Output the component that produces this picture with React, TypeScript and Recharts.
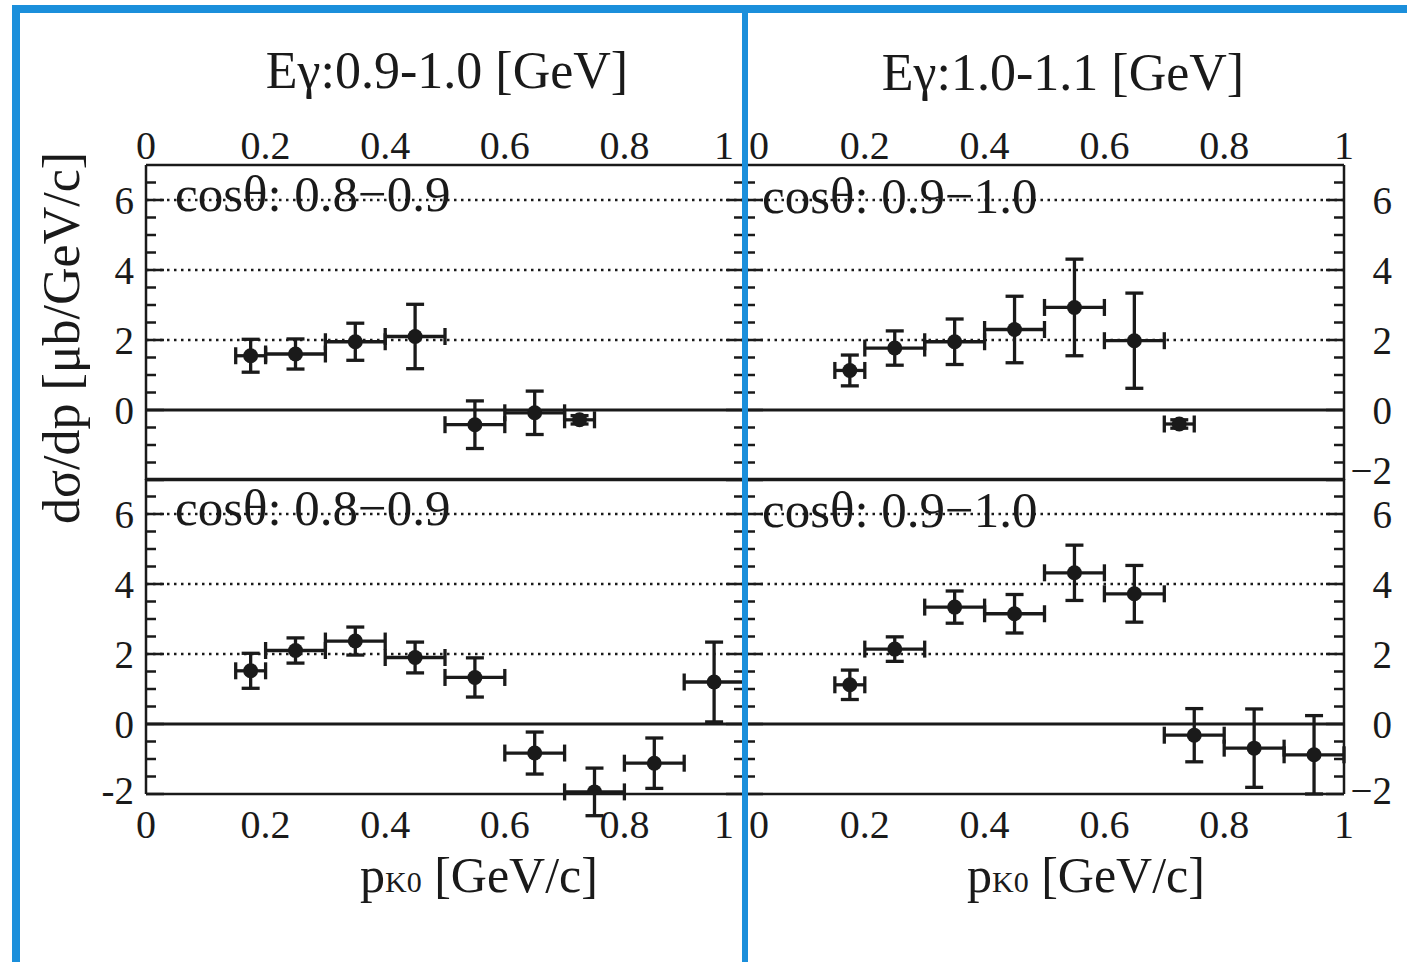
import { ScatterChart, Scatter, XAxis, YAxis, ErrorBar, ReferenceLine } from 'recharts';

const SERIF = "'Liberation Serif', 'Times New Roman', serif";
const INK = '#1a1a1a';
const BLUE = '#1b8fdb';

// Eγ 0.9–1.0 GeV, cosθ 0.8–0.9 (upper left)
const ulP = [0.175, 0.25, 0.35, 0.45, 0.55, 0.65, 0.725];
const ulV = [1.55, 1.6, 1.95, 2.1, -0.42, -0.08, -0.28];
const ulEv = [0.47, 0.43, 0.53, 0.92, 0.68, 0.62, 0.12];
const ulEp = [0.025, 0.05, 0.05, 0.05, 0.05, 0.05, 0.025];

// Eγ 1.0–1.1 GeV, cosθ 0.9–1.0 (upper right)
const urP = [0.175, 0.25, 0.35, 0.45, 0.55, 0.65, 0.725];
const urV = [1.13, 1.77, 1.95, 2.3, 2.93, 1.98, -0.4];
const urEv = [0.44, 0.49, 0.65, 0.95, 1.38, 1.36, 0.12];
const urEp = [0.025, 0.05, 0.05, 0.05, 0.05, 0.05, 0.025];

// lower left
const llP = [0.175, 0.25, 0.35, 0.45, 0.55, 0.65, 0.75, 0.85, 0.95];
const llV = [1.52, 2.1, 2.37, 1.9, 1.33, -0.83, -1.94, -1.12, 1.2];
const llEv = [0.5, 0.36, 0.4, 0.44, 0.56, 0.6, 0.68, 0.72, 1.14];
const llEp = [0.025, 0.05, 0.05, 0.05, 0.05, 0.05, 0.05, 0.05, 0.05];

// lower right
const lrP = [0.175, 0.25, 0.35, 0.45, 0.55, 0.65, 0.75, 0.85, 0.95];
const lrV = [1.12, 2.14, 3.34, 3.15, 4.32, 3.72, -0.32, -0.69, -0.88];
const lrEv = [0.42, 0.35, 0.46, 0.55, 0.79, 0.81, 0.76, 1.12, 1.12];
const lrEp = [0.025, 0.05, 0.05, 0.05, 0.05, 0.05, 0.05, 0.05, 0.05];

const xMajor = [0, 0.2, 0.4, 0.6, 0.8, 1];
const xMinor = [0.05, 0.1, 0.15, 0.25, 0.3, 0.35, 0.45, 0.5, 0.55, 0.65, 0.7, 0.75, 0.85, 0.9, 0.95];
const yMajor = [-2, 0, 2, 4, 6];
const yMinor = [-1.5, -1, -0.5, 0.5, 1, 1.5, 2.5, 3, 3.5, 4.5, 5, 5.5, 6.5];
const yLabelsUL = [0, 2, 4, 6];
const yLabelsOther = [-2, 0, 2, 4, 6];
const gridY = [2, 4, 6];

const titles = ['Eγ:0.9-1.0 [GeV]', 'Eγ:1.0-1.1 [GeV]'];
const cosLeft = 'cosθ: 0.8−0.9';
const cosRight = 'cosθ: 0.9−1.0';

const rows = (p: number[], v: number[], ev: number[], ep: number[]) =>
  p.map((x, i) => ({ p: x, v: v[i], ev: ev[i], ep: ep[i] }));

// plot-area boxes (page pixels)
const COLS = { L: { x: 146, w: 598 }, R: { x: 745, w: 599 } };
const ROWS = { T: { y: 165, h: 315 }, B: { y: 479, h: 315 } };
const PAD_X = 100;
const PAD_Y = 70;
const LAB_W = 80;
const LAB_H = 60;

const frame = { stroke: INK, strokeWidth: 2.5 };

const NoLabel = () => <g />;

function XLabel(props: any) {
  const { x, y, payload, col } = props;
  const v = payload.value;
  const dx = col === 'L' && v === 1 ? -20 : col === 'R' && v === 0 ? 14 : 0;
  return (
    <text x={x + dx} y={y} textAnchor="middle" fontSize={40} fontFamily={SERIF} fill={INK}>
      {String(v)}
    </text>
  );
}

function YLabel(props: any) {
  const { x, y, payload, col, row } = props;
  const v = payload.value;
  const txt = v < 0 ? (col === 'L' ? '-' : '\u2212') + Math.abs(v) : String(v);
  const dy = v === -2 ? (row === 'T' ? -10 : -4) : 0;
  return (
    <text x={x} y={y + dy} dy="0.35em" textAnchor="end" fontSize={39} fontFamily={SERIF} fill={INK}>
      {txt}
    </text>
  );
}

const Dot = (props: any) => <circle cx={props.cx} cy={props.cy} r={7.5} fill={INK} />;

function Panel({ col, row, data, yLabels }: { col: 'L' | 'R'; row: 'T' | 'B'; data: any[]; yLabels: number[] }) {
  const px = COLS[col];
  const py = ROWS[row];
  const labLeft = col === 'L';
  const labTop = row === 'T';
  const margin = {
    left: PAD_X - (labLeft ? LAB_W : 0),
    right: PAD_X - (labLeft ? 0 : LAB_W),
    top: PAD_Y - (labTop ? LAB_H : 0),
    bottom: PAD_Y - (labTop ? 0 : LAB_H),
  };
  const xCommon = { type: 'number' as const, domain: [0, 1], allowDataOverflow: true, interval: 0 as const };
  const yCommon = { type: 'number' as const, domain: [-2, 7], allowDataOverflow: true, interval: 0 as const };
  return (
    <div style={{ position: 'absolute', left: px.x - PAD_X, top: py.y - PAD_Y }}>
      <ScatterChart width={px.w + 2 * PAD_X} height={py.h + 2 * PAD_Y} margin={margin}>
        {/* data axes, carrying the tick labels */}
        <XAxis
          xAxisId="x"
          dataKey="p"
          orientation={labTop ? 'top' : 'bottom'}
          height={LAB_H}
          {...xCommon}
          ticks={xMajor}
          tickSize={0}
          tickMargin={labTop ? 6 : 44}
          tickLine={false}
          axisLine={false}
          tick={<XLabel col={col} />}
        />
        <YAxis
          yAxisId="y"
          dataKey="v"
          orientation={labLeft ? 'left' : 'right'}
          width={LAB_W}
          {...yCommon}
          ticks={yLabels}
          tickSize={0}
          tickMargin={labLeft ? 12 : 48}
          tickLine={false}
          axisLine={false}
          tick={<YLabel col={col} row={row} />}
        />

        {/* frame + inward major/minor ticks */}
        <XAxis xAxisId="bM" orientation="bottom" mirror height={1} {...xCommon} ticks={xMajor} tick={NoLabel} tickSize={11} tickLine={frame} axisLine={frame} />
        <XAxis xAxisId="bm" orientation="bottom" mirror height={1} {...xCommon} ticks={xMinor} tick={NoLabel} tickSize={5.5} tickLine={frame} axisLine={false} />
        <XAxis xAxisId="tM" orientation="top" mirror height={1} {...xCommon} ticks={xMajor} tick={NoLabel} tickSize={11} tickLine={frame} axisLine={frame} />
        <XAxis xAxisId="tm" orientation="top" mirror height={1} {...xCommon} ticks={xMinor} tick={NoLabel} tickSize={5.5} tickLine={frame} axisLine={false} />
        <YAxis yAxisId="lM" orientation="left" mirror width={1} {...yCommon} ticks={yMajor} tick={NoLabel} tickSize={18} tickLine={frame} axisLine={frame} />
        <YAxis yAxisId="lm" orientation="left" mirror width={1} {...yCommon} ticks={yMinor} tick={NoLabel} tickSize={9} tickLine={frame} axisLine={false} />
        <YAxis yAxisId="rM" orientation="right" mirror width={1} {...yCommon} ticks={yMajor} tick={NoLabel} tickSize={18} tickLine={frame} axisLine={frame} />
        <YAxis yAxisId="rm" orientation="right" mirror width={1} {...yCommon} ticks={yMinor} tick={NoLabel} tickSize={9} tickLine={frame} axisLine={false} />

        {gridY.map((g) => (
          <ReferenceLine key={g} xAxisId="x" yAxisId="y" y={g} stroke={INK} strokeWidth={2.5} strokeDasharray="2.5 4.5" />
        ))}
        <ReferenceLine xAxisId="x" yAxisId="y" y={0} stroke={INK} strokeWidth={3} />

        <Scatter xAxisId="x" yAxisId="y" data={data} shape={<Dot />} isAnimationActive={false}>
          <ErrorBar dataKey="ev" direction="y" width={9} strokeWidth={3.3} stroke={INK} isAnimationActive={false} />
          <ErrorBar dataKey="ep" direction="x" width={8.5} strokeWidth={3.3} stroke={INK} isAnimationActive={false} />
        </Scatter>
      </ScatterChart>
    </div>
  );
}

export default function App() {
  const txt = { fontFamily: SERIF, fill: INK };
  return (
    <div style={{ position: 'absolute', left: 0, top: 0, width: 1407, height: 962, background: '#fff', overflow: 'hidden' }}>
      <Panel col="L" row="T" data={rows(ulP, ulV, ulEv, ulEp)} yLabels={yLabelsUL} />
      <Panel col="R" row="T" data={rows(urP, urV, urEv, urEp)} yLabels={yLabelsOther} />
      <Panel col="L" row="B" data={rows(llP, llV, llEv, llEp)} yLabels={yLabelsOther} />
      <Panel col="R" row="B" data={rows(lrP, lrV, lrEv, lrEp)} yLabels={yLabelsOther} />

      <svg width={1407} height={962} style={{ position: 'absolute', left: 0, top: 0, pointerEvents: 'none' }}>
        <rect x={12} y={5} width={1395} height={8} fill={BLUE} />
        <rect x={12} y={5} width={8} height={957} fill={BLUE} />
        <rect x={742} y={12} width={6} height={950} fill={BLUE} />

        <text x={447} y={88} textAnchor="middle" fontSize={52} {...txt}>{titles[0]}</text>
        <text x={1063} y={90} textAnchor="middle" fontSize={52} {...txt}>{titles[1]}</text>

        <text x={175} y={211} fontSize={51} {...txt}>{cosLeft}</text>
        <text x={175} y={525} fontSize={51} {...txt}>{cosLeft}</text>
        <text x={762} y={213} fontSize={51} {...txt}>{cosRight}</text>
        <text x={762} y={527} fontSize={51} {...txt}>{cosRight}</text>

        <text transform="translate(79,338) rotate(-90)" textAnchor="middle" fontSize={52} {...txt}>
          dσ/dp [μb/GeV/c]
        </text>

        <text x={360} y={892} fontSize={50} {...txt}>
          p<tspan fontSize={30}>K0</tspan> [GeV/c]
        </text>
        <text x={967} y={892} fontSize={50} {...txt}>
          p<tspan fontSize={30}>K0</tspan> [GeV/c]
        </text>
      </svg>
    </div>
  );
}
